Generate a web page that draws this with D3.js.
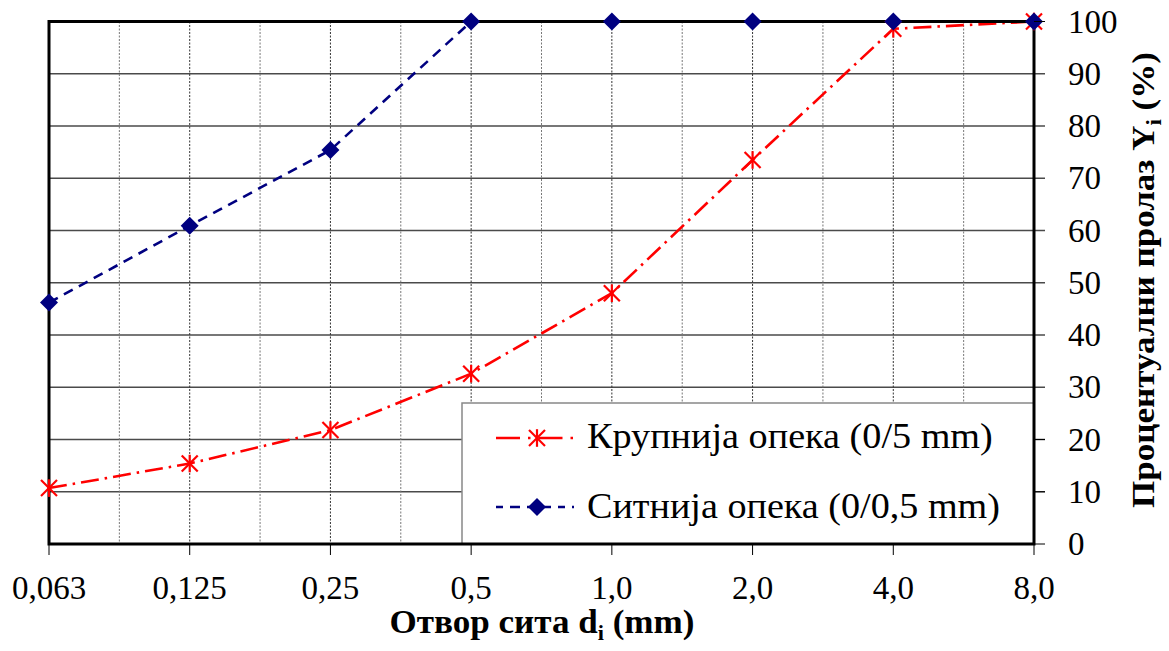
<!DOCTYPE html>
<html>
<head>
<meta charset="utf-8">
<script src="https://cdn.jsdelivr.net/npm/d3@7"></script>
<style>
  html, body { margin: 0; padding: 0; background: #fff; }
  svg { display: block; font-family: "Liberation Serif", "DejaVu Serif", serif; }
</style>
</head>
<body>
<svg id="chart" width="1169" height="651"></svg>
<script>
// Sieve openings (mm) and cumulative passing (%)
const sieves = ["0,063", "0,125", "0,25", "0,5", "1,0", "2,0", "4,0", "8,0"];
const coarseBrick = [10.7, 15.4, 21.8, 32.6, 48.0, 73.5, 98.6, 100];
const fineBrick   = [46.2, 60.9, 75.4, 100, 100, 100, 100, 100];
const yTicks = [0, 10, 20, 30, 40, 50, 60, 70, 80, 90, 100];
const seriesNames = ["Крупнија опека (0/5 mm)", "Ситнија опека (0/0,5 mm)"];

const svg = d3.select("#chart");
const plotLeft = 49, plotRight = 1034, plotTop = 21.5, plotBottom = 544;

const x = d3.scalePoint().domain(sieves).range([plotLeft, plotRight]);
const y = d3.scaleLinear().domain([0, 100]).range([plotBottom, plotTop]);
const step = x.step();

// widen a text horizontally to a given run length (serif face is narrower than the original one)
function stretchTo(sel, width, ax, ay, extra) {
  const node = sel.node();
  const s = width / node.getComputedTextLength();
  sel.attr("transform", (extra || `translate(${ax},${ay})`) + ` scale(${s},1)` +
    (extra ? "" : ` translate(${-ax},${-ay})`));
}

// horizontal grid (with outward ticks on the right)
const grid = svg.append("g");
grid.selectAll("line.h").data(yTicks.filter(v => v > 0 && v < 100)).join("line")
  .attr("x1", plotLeft).attr("x2", plotRight + 11)
  .attr("y1", d => y(d)).attr("y2", d => y(d))
  .attr("stroke", "#4a4a4a").attr("stroke-width", 1.3);

// minor vertical dotted lines halfway between sieves
const minors = sieves.slice(0, -1).map(s => x(s) + step / 2);
grid.selectAll("line.vm").data(minors).join("line")
  .attr("x1", d => d).attr("x2", d => d)
  .attr("y1", plotTop).attr("y2", plotBottom)
  .attr("stroke", "#777").attr("stroke-width", 1)
  .attr("stroke-dasharray", "2,1.5");

// major vertical dotted lines at each sieve
grid.selectAll("line.v").data(sieves.slice(1, -1)).join("line")
  .attr("x1", d => x(d)).attr("x2", d => x(d))
  .attr("y1", plotTop).attr("y2", plotBottom)
  .attr("stroke", "#333").attr("stroke-width", 1)
  .attr("stroke-dasharray", "2,1.5");

// series lines
const line = d3.line().x((d, i) => x(sieves[i])).y(d => y(d));

svg.append("path").datum(coarseBrick)
  .attr("d", line).attr("fill", "none")
  .attr("stroke", "#ff0000").attr("stroke-width", 2.6)
  .attr("stroke-dasharray", "18,6,2.5,6");

svg.append("path").datum(fineBrick)
  .attr("d", line).attr("fill", "none")
  .attr("stroke", "#000080").attr("stroke-width", 2.6)
  .attr("stroke-dasharray", "10,7");

function starMarker(g, cx, cy, r) {
  const s = g.append("g").attr("transform", `translate(${cx},${cy})`)
    .attr("stroke", "#ff0000").attr("stroke-width", 2.2).attr("fill", "none");
  s.append("line").attr("x1", -r).attr("y1", -r).attr("x2", r).attr("y2", r);
  s.append("line").attr("x1", -r).attr("y1", r).attr("x2", r).attr("y2", -r);
  s.append("line").attr("x1", 0).attr("y1", -r * 1.1).attr("x2", 0).attr("y2", r * 1.1);
}
function diamondMarker(g, cx, cy, r) {
  g.append("path")
    .attr("d", `M${cx},${cy - r}L${cx + r},${cy}L${cx},${cy + r}L${cx - r},${cy}Z`)
    .attr("fill", "#000080");
}

// legend
const lg = svg.append("g");
lg.append("rect").attr("x", 462).attr("y", 403)
  .attr("width", plotRight - 462).attr("height", plotBottom - 403)
  .attr("fill", "#fff").attr("stroke", "#888").attr("stroke-width", 1.5);
lg.append("line").attr("x1", 496).attr("x2", 578).attr("y1", 438).attr("y2", 438)
  .attr("stroke", "#ff0000").attr("stroke-width", 2.6)
  .attr("stroke-dasharray", "24,8,2.5,8");
starMarker(lg, 537, 438, 8);
lg.append("line").attr("x1", 496).attr("x2", 574).attr("y1", 507).attr("y2", 507)
  .attr("stroke", "#000080").attr("stroke-width", 2.6)
  .attr("stroke-dasharray", "7,7,10,7");
diamondMarker(lg, 537, 507, 9);
const legendWidths = [406, 413];
lg.selectAll("text").data(seriesNames).join("text")
  .attr("x", 587).attr("y", (d, i) => 448 + i * 70)
  .attr("font-size", 35).attr("fill", "#000").text(d => d)
  .each(function (d, i) { stretchTo(d3.select(this), legendWidths[i], 587, 448 + i * 70); });

// frame
svg.append("rect").attr("x", plotLeft).attr("y", plotTop)
  .attr("width", plotRight - plotLeft).attr("height", plotBottom - plotTop)
  .attr("fill", "none").attr("stroke", "#000").attr("stroke-width", 3);

// markers on top of the frame
const markers = svg.append("g");
coarseBrick.forEach((v, i) => starMarker(markers, x(sieves[i]), y(v), 8));
fineBrick.forEach((v, i) => diamondMarker(markers, x(sieves[i]), y(v), 9));

// bottom ticks and labels
const bx = svg.append("g");
bx.selectAll("line").data(sieves).join("line")
  .attr("x1", d => x(d)).attr("x2", d => x(d))
  .attr("y1", plotBottom).attr("y2", plotBottom + 11)
  .attr("stroke", "#000").attr("stroke-width", 1);
bx.selectAll("text").data(sieves).join("text")
  .attr("x", d => x(d)).attr("y", 599)
  .attr("text-anchor", "middle").attr("font-size", 33).text(d => d);

// right ticks and labels
const ry = svg.append("g");
ry.selectAll("line").data([0, 10, 20, 100]).join("line")
  .attr("x1", plotRight).attr("x2", plotRight + 11)
  .attr("y1", d => y(d)).attr("y2", d => y(d))
  .attr("stroke", "#000").attr("stroke-width", 1);
ry.selectAll("text").data(yTicks).join("text")
  .attr("x", 1068).attr("y", d => y(d)).attr("dy", "0.34em")
  .attr("font-size", 33).text(d => d);

// axis titles
const xt = svg.append("text").attr("x", 542).attr("y", 633)
  .attr("text-anchor", "middle").attr("font-size", 33).attr("font-weight", "bold");
xt.append("tspan").text("Отвор сита d");
xt.append("tspan").attr("font-size", 21).attr("dy", 7).text("i");
xt.append("tspan").attr("dy", -7).text(" (mm)");
stretchTo(xt, 305, 542, 633);

const yt = svg.append("text")
  .attr("text-anchor", "middle").attr("font-size", 32).attr("font-weight", "bold");
yt.append("tspan").text("Процентуални пролаз Y");
yt.append("tspan").attr("font-size", 21).attr("dy", 7).text("i");
yt.append("tspan").attr("dy", -7).text(" (%)");
stretchTo(yt, 456, 0, 0, "translate(1154,280) rotate(-90)");
</script>
</body>
</html>
